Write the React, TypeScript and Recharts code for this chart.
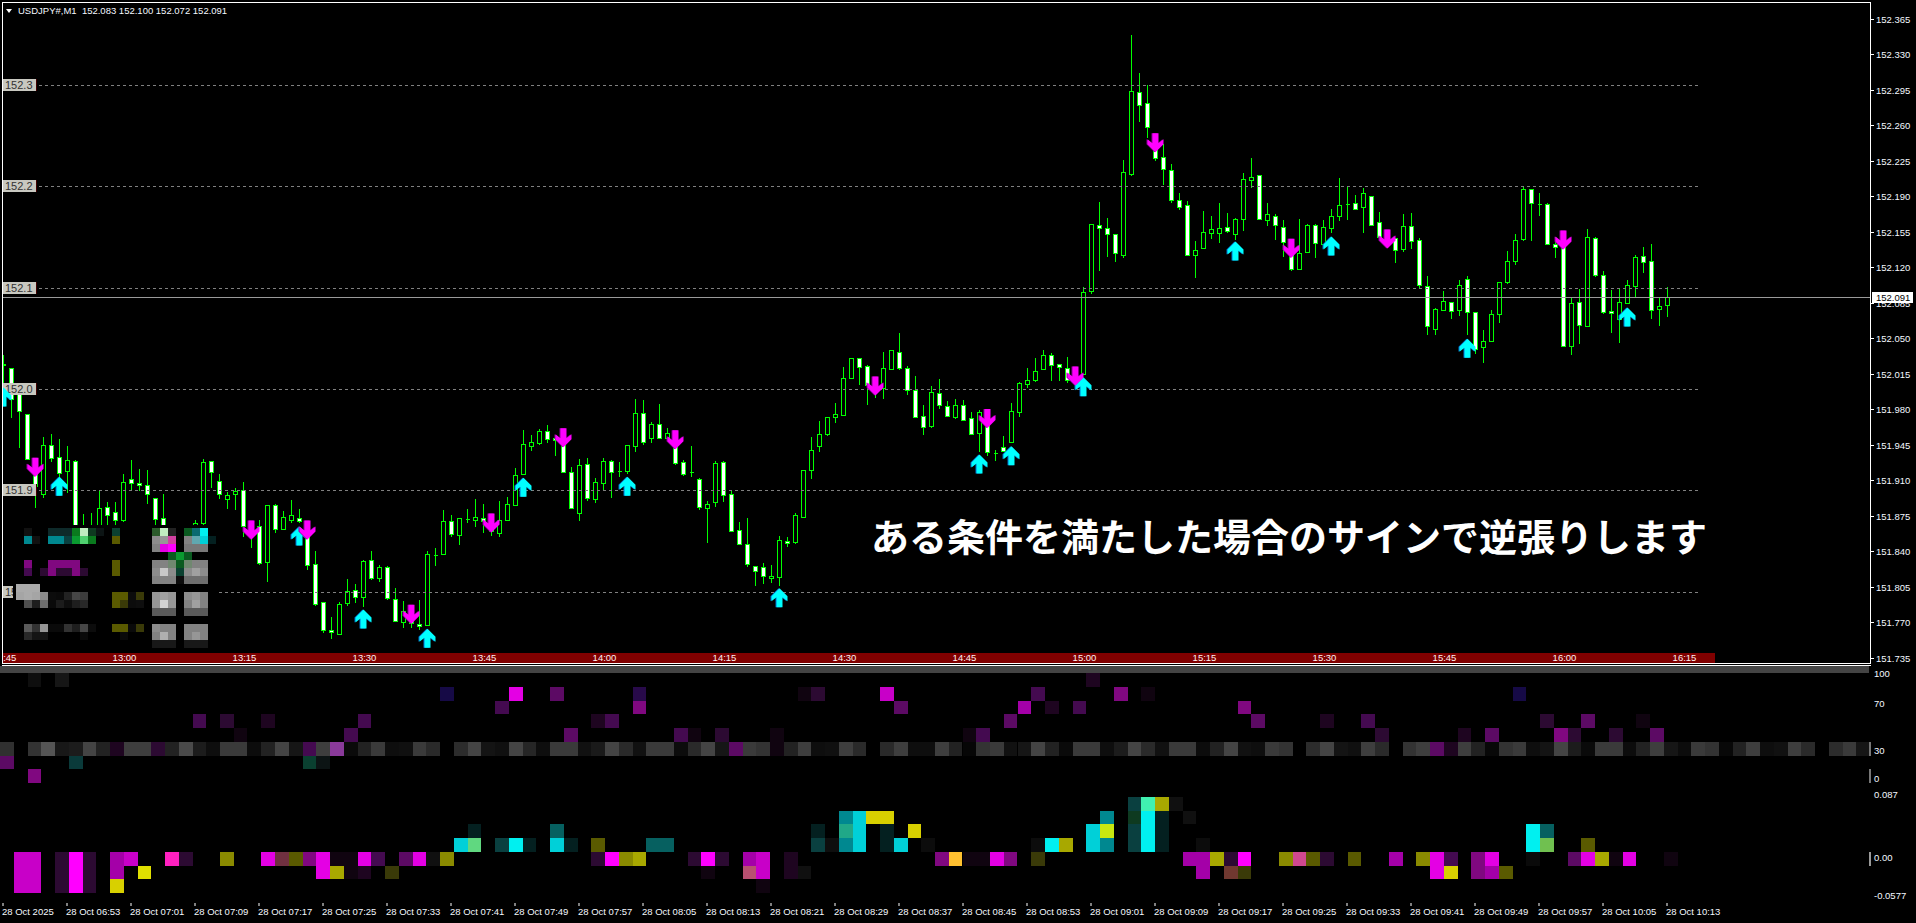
import {
  Bar,
  ComposedChart,
  Line,
  ReferenceLine,
  Scatter,
  ScatterChart,
  XAxis,
  YAxis,
} from "recharts";

// quotes are in points (0.001) above 152.000, one row of values per candle
const opens = [25,21,-5,-25,-68,-104,-55,-67,-81,-71,-150,-138,-145,-116,-121,-129,-89,-93,-95,-107,-127,-140,-150,-146,-141,-132,-71,-91,-108,-104,-100,-135,-135,-171,-114,-138,-129,-127,-130,-173,-210,-238,-242,-211,-198,-205,-169,-186,-176,-207,-230,-218,-232,-233,-164,-163,-130,-144,-128,-129,-127,-131,-142,-129,-114,-84,-56,-53,-41,-48,-48,-82,-122,-74,-108,-93,-71,-81,-81,-56,-24,-48,-34,-48,-43,-72,-82,-89,-117,-111,-72,-104,-139,-153,-175,-176,-186,-185,-150,-151,-126,-80,-56,-44,-28,-26,11,31,23,6,1,20,37,21,-1,-27,-36,-4,-17,-28,-16,-29,-43,-23,-63,-57,-52,-23,5,9,20,34,25,21,10,15,97,162,159,153,132,212,293,282,252,229,216,186,181,132,139,154,154,160,153,168,206,211,167,171,160,146,118,135,162,143,159,171,182,183,180,190,165,155,149,138,161,147,102,59,78,86,78,109,76,41,47,74,106,126,148,197,182,182,143,140,42,86,62,149,112,77,69,85,102,131,126,79,83];
const highs = [34,21,-5,-25,-68,-47,-44,-49,-56,-70,-123,-122,-100,-111,-111,-84,-70,-79,-80,-107,-104,-136,-140,-138,-129,-69,-71,-84,-102,-98,-92,-130,-129,-114,-113,-120,-109,-118,-130,-160,-210,-225,-210,-187,-192,-169,-160,-174,-175,-196,-209,-214,-208,-160,-157,-119,-124,-127,-118,-108,-113,-129,-110,-106,-78,-40,-45,-39,-35,-45,-48,-77,-69,-68,-88,-68,-70,-72,-55,-10,-11,-33,-15,-38,-43,-70,-56,-88,-110,-71,-71,-101,-131,-127,-175,-172,-174,-145,-146,-122,-80,-47,-32,-28,-14,22,31,31,24,6,37,38,55,23,13,-16,3,10,-12,-10,-11,-23,-21,-22,-60,-46,-14,7,21,31,38,36,25,32,12,101,163,184,169,153,226,349,312,300,252,242,222,193,185,146,176,171,183,174,169,213,228,211,183,173,167,146,168,163,163,167,178,208,200,191,198,190,175,156,149,173,174,149,111,80,97,86,108,111,76,58,78,106,136,153,200,197,193,183,150,140,90,99,158,150,116,98,100,108,132,140,143,91,101];
const lows = [-5,-28,-57,-69,-116,-106,-71,-86,-102,-139,-152,-155,-147,-134,-135,-130,-100,-100,-112,-135,-145,-152,-155,-150,-145,-133,-97,-107,-117,-118,-145,-156,-173,-189,-141,-138,-131,-131,-177,-213,-240,-246,-242,-213,-210,-214,-187,-189,-207,-229,-235,-235,-237,-233,-174,-163,-145,-153,-131,-135,-141,-144,-145,-129,-114,-84,-60,-54,-52,-65,-82,-117,-129,-109,-111,-100,-106,-86,-83,-61,-54,-52,-48,-50,-74,-85,-86,-118,-151,-115,-110,-140,-153,-175,-193,-191,-190,-193,-155,-152,-126,-88,-61,-45,-33,-26,11,5,-15,-8,-9,20,20,-5,-28,-44,-37,-19,-27,-29,-31,-44,-61,-65,-70,-61,-52,-27,2,8,20,9,9,7,5,15,95,117,131,126,130,211,264,249,226,202,184,178,132,110,139,149,145,155,148,157,199,168,162,148,131,117,118,135,130,143,155,167,168,178,155,162,150,149,125,136,139,101,54,54,78,70,73,54,36,27,47,66,105,123,147,147,172,143,130,42,35,45,62,111,75,56,46,85,91,115,70,63,72];
const closes = [24,-10,-22,-69,-96,-55,-68,-83,-70,-137,-135,-150,-117,-124,-129,-92,-93,-95,-104,-128,-139,-148,-144,-142,-132,-72,-82,-104,-105,-101,-135,-142,-172,-114,-138,-126,-124,-130,-174,-212,-238,-240,-212,-199,-205,-170,-186,-176,-206,-229,-219,-231,-234,-163,-164,-130,-143,-127,-128,-126,-130,-140,-129,-113,-85,-54,-52,-41,-49,-50,-82,-117,-75,-107,-92,-71,-82,-81,-55,-24,-52,-34,-48,-43,-73,-84,-82,-116,-113,-73,-105,-140,-153,-173,-179,-184,-184,-149,-152,-124,-80,-60,-44,-28,-25,11,31,22,4,1,21,38,21,-1,-28,-37,-3,-16,-27,-16,-31,-44,-23,-62,-63,-61,-22,6,9,18,34,24,22,9,6,96,163,159,153,134,214,294,280,258,228,217,186,180,132,137,155,158,159,156,168,207,209,168,173,162,145,118,134,162,144,160,171,181,182,178,193,162,150,149,137,161,146,103,62,79,87,77,103,76,39,47,74,106,126,147,197,183,182,143,140,42,85,63,150,112,76,75,86,103,130,125,78,82,91];

const upSlots = [0,7,37,45,53,65,78,97,122,126,135,154,166,183,203];
const upTips = [2,-86,-135,-217,-236,-87,-86,-196,-64,-56,12,146,151,50,81];
const downSlots = [4,31,38,51,61,70,84,109,123,134,144,161,173,195];
const downTips = [-86,-148,-148,-231,-141,-57,-59,-6,-38,4,234,130,139,138];

const priceTicks = [152.365,152.33,152.295,152.26,152.225,152.19,152.155,152.12,152.085,152.05,152.015,151.98,151.945,151.91,151.875,151.84,151.805,151.77,151.735];
const gridLevels = [152.3,152.2,152.1,152,151.9,151.8];
const lastPrice = 152.091;

const sessionSlots = [0,15,30,45,60,75,90,105,120,135,150,165,180,195,210];
const sessionLabels = ["12:45","13:00","13:15","13:30","13:45","14:00","14:15","14:30","14:45","15:00","15:15","15:30","15:45","16:00","16:15"];
const serverSlots = [0,8,16,24,32,40,48,56,64,72,80,88,96,104,112,120,128,136,144,152,160,168,176,184,192,200,208];
const serverLabels = ["28 Oct 2025","28 Oct 06:53","28 Oct 07:01","28 Oct 07:09","28 Oct 07:17","28 Oct 07:25","28 Oct 07:33","28 Oct 07:41","28 Oct 07:49","28 Oct 07:57","28 Oct 08:05","28 Oct 08:13","28 Oct 08:21","28 Oct 08:29","28 Oct 08:37","28 Oct 08:45","28 Oct 08:53","28 Oct 09:01","28 Oct 09:09","28 Oct 09:17","28 Oct 09:25","28 Oct 09:33","28 Oct 09:41","28 Oct 09:49","28 Oct 09:57","28 Oct 10:05","28 Oct 10:13"];

// lower pane, heat rows. number = grey level, text = key of the tones table
const midGrey = [48,0,51,85,24,28,68,34,0,62,62,0,34,74,28,14,58,58,12,34,68,22,0,62,0,10,34,58,14,16,58,42,0,44,68,20,16,68,38,14,58,58,17,26,68,42,17,58,58,12,42,68,22,0,58,51,0,34,62,14,16,62,42,0,42,62,14,14,62,34,6,51,58,17,22,68,34,10,58,58,14,28,68,42,17,58,58,12,34,68,17,14,58,51,0,44,68,20,16,62,42,0,51,62,0,0,62,34,8,51,58,14,20,68,28,10,58,58,12,34,62,22,12,58,51,8,34,62,14,17,62,42,0,44,58,22];
const rsiRow0 = [[2,14],[4,22],[79,"m1"]];
const rsiRow1 = [[32,"i1"],[37,"m8"],[40,"m4"],[46,"i2"],[58,"m0"],[59,"m2"],[64,"m7"],[75,"m3"],[81,"m5"],[83,"m0"],[110,"i1"]];
const rsiRow2 = [[36,"m3"],[46,"m5"],[65,"m4"],[74,"m6"],[76,"m1"],[78,"m3"],[90,"m5"]];
const rsiRow3 = [[14,"m3"],[16,"m2"],[19,"m1"],[26,"m3"],[43,"m1"],[44,"m3"],[73,"m4"],[91,"m4"],[96,"m1"],[99,"m3"],[112,"m2"],[115,"m4"],[119,"m0"]];
const rsiRow4 = [[17,"m0"],[25,"m3"],[41,"m4"],[49,"m3"],[50,"m0"],[52,"m2"],[56,"m0"],[70,"m0"],[71,"m3"],[100,"m2"],[106,"m1"],[108,"m4"],[113,"m5"],[114,"m2"],[117,"m2"],[120,"m4"]];
const rsiRow5 = [[8,"m1"],[11,"m2"],[22,"m3"],[24,"l1"],[53,"m4"],[56,"m0"],[104,"m4"],[105,"m1"]];
const rsiRow6 = [[0,"m4"],[5,"t1"],[22,"t2"],[23,"t3"]];
const rsiRow7 = [[2,"m5"]];
const macdRow9 = [[82,"c1"],[83,"s5"],[84,"y3"],[85,16]];
const macdRow10 = [[61,"c3"],[62,"c4"],[63,"y4"],[64,"y4"],[80,"c3"],[82,"n2"],[83,"c5"],[84,"c0"],[86,16]];
const macdRow11 = [[34,"c0"],[40,"c2"],[59,"c0"],[61,"s4"],[62,"c4"],[64,"c0"],[66,"y4"],[79,"c4"],[80,"s9"],[82,"c1"],[83,"c5"],[84,"c0"],[111,"c5"],[112,"c2"]];
const macdRow12 = [[33,"c4"],[34,"s3"],[36,"c1"],[37,"c5"],[38,"c0"],[40,"c4"],[41,"c0"],[43,"y1"],[47,"c2"],[48,"c2"],[59,"c1"],[60,14],[61,"c3"],[62,"c4"],[64,"c0"],[65,"c4"],[67,12],[75,12],[76,"c5"],[77,"y3"],[79,"c4"],[80,"c3"],[82,"c1"],[83,"c5"],[84,"c0"],[87,12],[111,"c5"],[112,"s11"],[115,"y1"]];
const macdRow13 = [[1,"m7"],[2,"m7"],[4,"m2"],[5,"m9"],[6,"m2"],[8,"m6"],[9,"m7"],[12,"s1"],[13,"m2"],[16,"y2"],[19,"m8"],[20,"s2"],[21,"y1"],[22,"m5"],[23,"m8"],[24,"m0"],[25,"m0"],[26,"m8"],[27,"m3"],[29,"m4"],[30,"m8"],[31,16],[32,"y2"],[43,"m2"],[44,"m9"],[45,"y2"],[46,"y3"],[50,"m2"],[51,"m9"],[52,"m2"],[54,"m6"],[55,"m7"],[57,"m1"],[68,"m5"],[69,"s6"],[70,"m0"],[71,"m0"],[72,"m8"],[73,"m5"],[75,"y0"],[86,"m6"],[87,"m6"],[88,"y3"],[89,"m2"],[90,"m9"],[93,"y2"],[94,"s10"],[95,"y1"],[96,"m2"],[98,"y1"],[101,"m6"],[103,"y2"],[104,"m8"],[105,"m3"],[107,"m5"],[108,"m8"],[111,10],[114,"m4"],[115,"m8"],[116,"y3"],[117,"m0"],[118,"m8"],[121,"m0"]];
const macdRow14 = [[1,"m7"],[2,"m7"],[4,"m2"],[5,"m9"],[6,"m2"],[8,"m6"],[10,"y5"],[23,"m8"],[24,"y3"],[25,"m0"],[26,"m1"],[28,"y0"],[51,"m0"],[54,"s7"],[55,"m7"],[57,"m1"],[58,16],[87,"m6"],[89,"s8"],[90,"y0"],[104,"m8"],[105,"y4"],[107,"m5"],[108,"m6"],[109,"y1"]];
const macdRow15 = [[1,"m7"],[2,"m7"],[4,"m2"],[5,"m9"],[6,"m2"],[8,"y4"],[55,"m0"]];

const paneTickRows = [0,2.18,5.6,7.65,8.8,13.4,16.2];
const paneTickLabels = ["100","70","30","0","0.087","0.00","-0.0577"];

// blurred panel that sits over the main chart
const blurRow0 = [[0,17],[3,"t4"],[4,"t4"],[5,"t4"],[6,"n1"],[7,"n4"],[8,"n2"],[9,"t3"],[11,"t2"],[16,"n7"],[17,"n4"],[18,34],[20,"n6"],[21,"n10"],[22,"c5"]];
const blurRow1 = [[0,"c3"],[1,17],[3,"c3"],[4,"c3"],[5,"c1"],[6,"n5"],[7,"n3"],[8,"n1"],[11,"y1"],[16,140],[17,150],[18,"n9"],[20,130],[21,"n8"],[22,"c4"],[23,"c0"]];
const blurRow2 = [[16,130],[17,"m8"],[18,"m9"],[20,120],[21,120],[22,120]];
const blurRow3 = [[18,"n6"],[19,"n5"],[20,"n6"]];
const blurRow4 = [[0,"m5"],[3,"m5"],[4,"m5"],[5,"m5"],[6,"m5"],[11,"y1"],[16,130],[17,130],[18,"n11"],[19,"n6"],[20,"n11"],[21,130],[22,130]];
const blurRow5 = [[0,"m3"],[2,"m2"],[3,"m5"],[4,"m2"],[5,"m2"],[6,"m5"],[7,"m2"],[11,"y1"],[16,140],[17,200],[18,140],[19,"t2"],[20,140],[21,160],[22,140]];
const blurRow6 = [[16,130],[17,130],[18,130],[19,12],[20,110],[21,110],[22,110]];
const blurRow7 = [[-1,170],[0,170],[1,170]];
const blurRow8 = [[-1,165],[0,170],[1,165],[2,140],[3,12],[4,10],[5,34],[6,70],[7,60],[11,"y1"],[12,"y1"],[13,12],[14,"y0"],[16,150],[17,160],[18,150],[20,140],[21,150],[22,130]];
const blurRow9 = [[0,80],[1,30],[2,110],[3,10],[4,28],[5,14],[6,30],[7,40],[11,"y1"],[12,"y0"],[13,12],[14,14],[16,150],[17,210],[18,150],[20,130],[21,160],[22,130]];
const blurRow10 = [[16,90],[17,90],[18,90],[20,90],[21,90],[22,90]];
const blurRow12 = [[0,90],[1,50],[2,150],[3,10],[4,10],[5,50],[6,30],[7,70],[8,12],[11,"y1"],[12,"y1"],[13,10],[14,"y0"],[16,140],[17,130],[18,130],[20,130],[21,130],[22,130]];
const blurRow13 = [[0,40],[1,20],[2,20],[7,10],[12,10],[16,130],[17,175],[18,130],[20,130],[21,150],[22,130]];
const blurRow14 = [[16,24],[17,24],[18,24],[20,24],[21,24],[22,24]];

const tones: Record<string, string> = {
  m0: "#100410", m1: "#1e0520", m2: "#2c0a32", m3: "#440a50", m4: "#5c0a64",
  m5: "#800880", m6: "#a400a8", m7: "#c800c8", m8: "#e400e4", m9: "#ff00ff",
  c0: "#042020", c1: "#0a4040", c2: "#066060", c3: "#008890", c4: "#00d0d8", c5: "#00f0f0",
  y0: "#3a3a08", y1: "#5a5a00", y2: "#8a8a00", y3: "#a8a800", y4: "#d8d000", y5: "#e0e000",
  i1: "#160a46", i2: "#280a4a", l1: "#8a3a9a",
  t1: "#0a3a3a", t2: "#0a4030", t3: "#0c1414", t4: "#0e2a2a",
  s1: "#ff20c0", s2: "#703040", s3: "#60d880", s4: "#20a888", s5: "#40f0b0", s6: "#ffc030",
  s7: "#b85070", s8: "#703830", s9: "#c8e810", s10: "#d04890", s11: "#70c050",
  n1: "#0a7a1e", n2: "#0e3a20", n3: "#50d070", n4: "#c0ecc0", n5: "#0a9a30", n6: "#0a5a20",
  n7: "#2a5a2a", n8: "#60a8b0", n9: "#d040a0", n10: "#0a6a70", n11: "#708870",
};

const toneColor = (tone: number | string) =>
  typeof tone === "number" ? `rgb(${tone},${tone},${tone})` : tones[tone];

const toPrice = (points: number) => 152 + points / 1000;

const candles = Array.from({ length: 234 }, (_, slot) => {
  const has = slot < opens.length;
  const up = upSlots.indexOf(slot);
  const down = downSlots.indexOf(slot);
  return {
    slot,
    open: has ? toPrice(opens[slot]) : null,
    close: has ? toPrice(closes[slot]) : null,
    high: has ? toPrice(highs[slot]) : null,
    low: has ? toPrice(lows[slot]) : null,
    range: has ? [toPrice(lows[slot]), toPrice(highs[slot])] : null,
    upTip: up >= 0 ? toPrice(upTips[up]) : null,
    downTip: down >= 0 ? toPrice(downTips[down]) : null,
  };
});

const rowsToCells = (rows: [number, any[][]][]) =>
  rows.flatMap(([row, cells]) =>
    cells.map(([col, tone]) => ({ x: col + 0.5, y: row + 0.5, tone })),
  );

const paneCells = [
  ...midGrey.map((level, col) => ({ x: col + 0.5, y: 5.5, tone: level })),
  ...rowsToCells([
    [0, rsiRow0], [1, rsiRow1], [2, rsiRow2], [3, rsiRow3], [4, rsiRow4], [5, rsiRow5], [6, rsiRow6], [7, rsiRow7],
    [9, macdRow9], [10, macdRow10], [11, macdRow11], [12, macdRow12], [13, macdRow13], [14, macdRow14], [15, macdRow15],
  ]),
];

const blurCells = rowsToCells([
  [0, blurRow0], [1, blurRow1], [2, blurRow2], [3, blurRow3], [4, blurRow4], [5, blurRow5], [6, blurRow6], [7, blurRow7],
  [8, blurRow8], [9, blurRow9], [10, blurRow10], [12, blurRow12], [13, blurRow13], [14, blurRow14],
]);

const TERMINAL_FONT = '"Liberation Sans", Arial, sans-serif';

function CandleShape(props: any) {
  const { x, y, width, height, payload } = props;
  if (payload.high == null || !height) return null;
  const perUnit = height / (payload.high - payload.low);
  const toY = (price: number) => y + (payload.high - price) * perUnit;
  const cx = Math.floor(x + width / 2) + 0.5;
  const bull = payload.close > payload.open;
  const top = Math.floor(toY(Math.max(payload.open, payload.close))) + 0.5;
  const bottom = Math.floor(toY(Math.min(payload.open, payload.close))) + 0.5;
  return (
    <g shapeRendering="crispEdges">
      <line x1={cx} x2={cx} y1={Math.floor(y)} y2={Math.floor(y + height) + 1} stroke="#00ff00" />
      <path
        d={`M${cx - 2} ${top}H${cx + 2}V${bottom}H${cx - 2}Z`}
        fill={bull ? "#000" : "#fff"}
        stroke="#00ff00"
      />
    </g>
  );
}

function UpArrow(props: any) {
  const { cx, cy, index } = props;
  if (cy == null) return <g key={index} />;
  const x = Math.floor(cx) + 0.5;
  const d = (ox: number) => `M${x + ox} ${cy}l8 8v5l-5 -4v10h-6v-10l-5 4v-5z`;
  return (
    <g key={index}>
      <path d={d(-1)} fill="#0070d0" />
      <path d={d(0)} fill="#00ffff" />
    </g>
  );
}

function DownArrow(props: any) {
  const { cx, cy, index } = props;
  if (cy == null) return <g key={index} />;
  const x = Math.floor(cx) + 0.5;
  const d = (ox: number) => `M${x + ox} ${cy}l8 -8v-5l-5 4v-10h-6v10l-5 -4v5z`;
  return (
    <g key={index}>
      <path d={d(-1)} fill="#90009a" />
      <path d={d(0)} fill="#ff00ff" />
    </g>
  );
}

function GridLine(props: any) {
  const y = Math.floor(props.y1) + 0.5;
  return (
    <line x1={props.x1} x2={props.x2} y1={y} y2={y} stroke="#808080" strokeDasharray="3 3" shapeRendering="crispEdges" />
  );
}

function PriceLine(props: any) {
  const y = Math.floor(props.y1) + 0.5;
  return <line x1={props.x1} x2={props.x2} y1={y} y2={y} stroke="#9a9a9a" shapeRendering="crispEdges" />;
}

function LevelTag(props: any) {
  const y = Math.floor(props.y1);
  return (
    <g>
      <rect x={3} y={y - 6} width={34} height={12} fill="#c8c8c0" />
      <rect x={37} y={y - 6} width={1} height={12} fill="#400000" />
      <text x={6} y={y + 4} fontSize={11} fill="#333" fontFamily={TERMINAL_FONT}>
        {props.label}
      </text>
    </g>
  );
}

function PriceTick(props: any) {
  const { x, y, payload } = props;
  const row = Math.floor(y) + 0.5;
  return (
    <g>
      <line x1={x} x2={x + 3} y1={row} y2={row} stroke="#fff" shapeRendering="crispEdges" />
      <text x={x + 5} y={y + 3.5} fontSize={9.5} fill="#f4f8ff" fontFamily={TERMINAL_FONT}>
        {payload.value.toFixed(3)}
      </text>
    </g>
  );
}

function SessionTick(props: any) {
  const { x, y, payload } = props;
  return (
    <text x={x + 1.5} y={y - 2} fontSize={9.5} fill="#fff0f0" textAnchor="middle" fontFamily={TERMINAL_FONT}>
      {sessionLabels[sessionSlots.indexOf(payload.value)]}
    </text>
  );
}

function ServerTick(props: any) {
  const { x, y, payload } = props;
  return (
    <text x={x - 1} y={y + 9} fontSize={9.5} fill="#f4f8ff" fontFamily={TERMINAL_FONT}>
      {serverLabels[serverSlots.indexOf(payload.value)]}
    </text>
  );
}

function HeatCell(props: any) {
  const { cx, cy, payload, cellWidth, cellHeight } = props;
  const left = Math.round(cx - cellWidth / 2);
  const top = Math.round(cy - cellHeight / 2);
  return (
    <rect
      x={left}
      y={top}
      width={Math.round(cx + cellWidth / 2) - left}
      height={Math.round(cy + cellHeight / 2) - top}
      fill={toneColor(payload.tone)}
      shapeRendering="crispEdges"
    />
  );
}

function PaneTick(props: any) {
  const { x, y, payload } = props;
  return (
    <text x={x + 4} y={y + 3.5} fontSize={9.5} fill="#f4f8ff" fontFamily={TERMINAL_FONT}>
      {paneTickLabels[paneTickRows.indexOf(payload.value)]}
    </text>
  );
}

const layer = (left: number, top: number, width: number, height: number, extra = {}) => ({
  position: "absolute" as const,
  left,
  top,
  width,
  height,
  ...extra,
});

export default function App() {
  return (
    <div style={{ position: "fixed", left: 0, top: 0, width: 1916, height: 923, background: "#000", overflow: "hidden" }}>
      {/* red session strip sits under the chart */}
      <div style={layer(3, 653, 1712, 10, { background: "#800000" })} />

      <div style={layer(-1, 3, 1917, 680)}>
        <ComposedChart width={1917} height={680} data={candles} margin={{ top: 0, right: 0, bottom: 0, left: 0 }} barCategoryGap={0}>
          <XAxis
            dataKey="slot"
            height={20}
            axisLine={false}
            tickLine={false}
            tickSize={0}
            tickMargin={0}
            ticks={sessionSlots}
            interval={0}
            tick={<SessionTick />}
          />
          <YAxis
            orientation="right"
            width={45}
            type="number"
            domain={[151.7303, 152.3812]}
            ticks={priceTicks}
            interval={0}
            axisLine={false}
            tickLine={false}
            tickSize={0}
            tickMargin={0}
            tick={<PriceTick />}
          />
          {gridLevels.map((level) => (
            <ReferenceLine
              key={level}
              segment={[{ x: 0, y: level }, { x: 212, y: level }]}
              shape={<GridLine />}
            />
          ))}
          <ReferenceLine y={lastPrice} shape={<PriceLine />} />
          <Bar dataKey="range" barSize={5} shape={<CandleShape />} isAnimationActive={false} />
          <Line dataKey="upTip" stroke="none" dot={UpArrow} activeDot={false} isAnimationActive={false} />
          <Line dataKey="downTip" stroke="none" dot={DownArrow} activeDot={false} isAnimationActive={false} />
          {gridLevels.map((level) => (
            <ReferenceLine
              key={`tag-${level}`}
              y={level}
              shape={<LevelTag label={level.toFixed(1)} />}
            />
          ))}
        </ComposedChart>
      </div>

      {/* blurred panel */}
      <div style={layer(13, 525, 206, 125, { background: "#000" })} />
      <div style={layer(16, 528, 200, 120)}>
        <ScatterChart width={200} height={120} margin={{ top: 0, right: 0, bottom: 0, left: 0 }}>
          <XAxis type="number" dataKey="x" domain={[-1, 24]} hide />
          <YAxis type="number" dataKey="y" domain={[0, 15]} reversed hide />
          <Scatter data={blurCells} shape={<HeatCell cellWidth={8} cellHeight={8} />} isAnimationActive={false} />
        </ScatterChart>
      </div>

      {/* frame */}
      <div style={layer(0, 0, 2, 672, { background: "#000" })} />
      <div style={layer(2, 2, 1, 664, { background: "#fff" })} />
      <div style={layer(2, 2, 1869, 1, { background: "#fff" })} />
      <div style={layer(1870, 2, 1, 662, { background: "#fff" })} />
      <div style={layer(2, 663, 1869, 1, { background: "#fff" })} />
      <div style={layer(2, 664, 1868, 1, { background: "#000" })} />
      <div style={layer(2, 665, 1869, 1, { background: "#fff" })} />
      <div style={layer(0, 666, 1869, 7, { background: "#444" })} />

      {/* lower pane */}
      <div style={layer(0, 666, 1916, 241)}>
        <ScatterChart width={1916} height={241} margin={{ top: 7, right: 0, bottom: 0, left: 0 }}>
          <XAxis type="number" dataKey="x" domain={[0, 136]} hide />
          <YAxis
            type="number"
            dataKey="y"
            domain={[0, 17]}
            reversed
            orientation="right"
            width={46}
            ticks={paneTickRows}
            interval={0}
            axisLine={false}
            tickLine={false}
            tickSize={0}
            tickMargin={0}
            tick={<PaneTick />}
          />
          <Scatter data={paneCells} shape={<HeatCell cellWidth={13.75} cellHeight={13.77} />} isAnimationActive={false} />
        </ScatterChart>
      </div>
      <div style={layer(1869, 742, 2, 14, { background: "#777" })} />
      <div style={layer(1869, 769, 2, 14, { background: "#777" })} />
      <div style={layer(1869, 852, 2, 14, { background: "#999" })} />

      {/* server time axis */}
      <div style={layer(-1, 880, 1872, 43)}>
        <ComposedChart width={1872} height={43} data={candles} margin={{ top: 0, right: 0, bottom: 0, left: 0 }} barCategoryGap={0}>
          <XAxis
            dataKey="slot"
            height={20}
            axisLine={false}
            tickSize={3}
            tickMargin={0}
            tickLine={{ stroke: "#fff" }}
            ticks={serverSlots}
            interval={0}
            tick={<ServerTick />}
          />
          <YAxis hide domain={[151.7303, 152.3812]} />
          <Bar dataKey="range" shape={() => null} isAnimationActive={false} />
        </ComposedChart>
      </div>

      {/* last price tag */}
      <div
        style={layer(1872, 292, 41, 11, {
          background: "#fff",
          color: "#000",
          font: `9.5px/11px ${TERMINAL_FONT}`,
          paddingLeft: 4,
          boxSizing: "border-box",
        })}
      >
        {lastPrice.toFixed(3)}
      </div>

      {/* header */}
      <div
        style={layer(6, 9, 0, 0, {
          borderLeft: "3.5px solid transparent",
          borderRight: "3.5px solid transparent",
          borderTop: "4px solid #fff",
        })}
      />
      <div style={layer(18, 5, 400, 12, { color: "#f4f8ff", font: `9.5px/12px ${TERMINAL_FONT}`, whiteSpace: "pre" })}>
        USDJPY#,M1  152.083 152.100 152.072 152.091
      </div>

      {/* annotation */}
      <div
        style={layer(871, 511, 860, 48, {
          color: "#fff",
          font: `700 38px/48px "Noto Sans CJK JP", sans-serif`,
          whiteSpace: "nowrap",
        })}
      >
        ある条件を満たした場合のサインで逆張りします
      </div>
    </div>
  );
}
